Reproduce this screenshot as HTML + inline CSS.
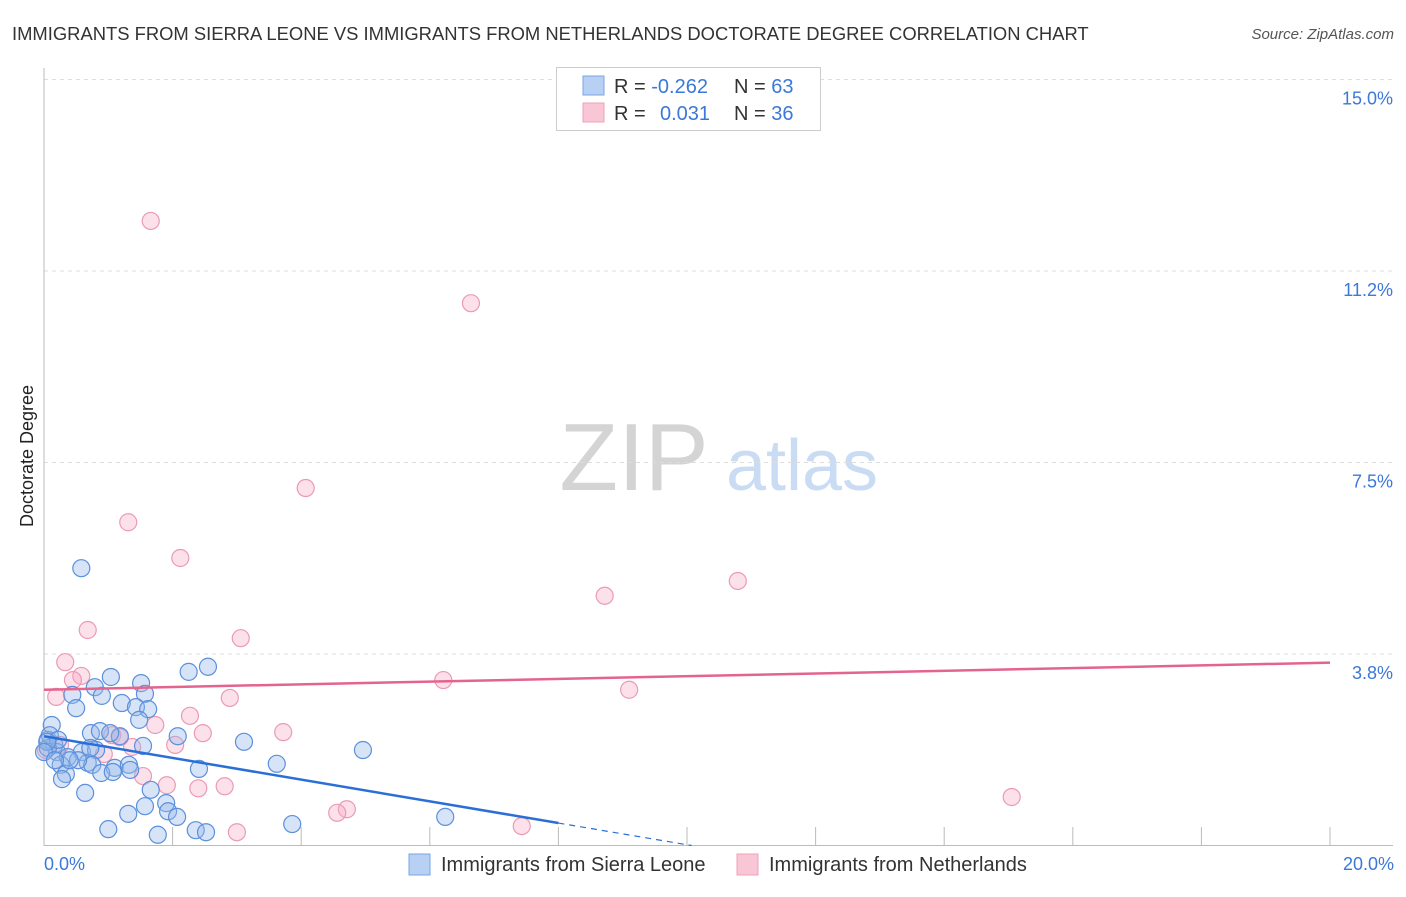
<!DOCTYPE html>
<html><head><meta charset="utf-8"><style>
body{margin:0;background:#fff;font-family:"Liberation Sans",sans-serif;}
svg text{font-family:"Liberation Sans",sans-serif;}
</style></head><body>
<svg id="chart" width="1406" height="892" xmlns="http://www.w3.org/2000/svg">
<text x="12" y="40" font-size="18.4" fill="#333">IMMIGRANTS FROM SIERRA LEONE VS IMMIGRANTS FROM NETHERLANDS DOCTORATE DEGREE CORRELATION CHART</text>
<text x="1394" y="39" font-size="15" fill="#555" font-style="italic" text-anchor="end">Source: ZipAtlas.com</text>
<g>
<text x="634" y="490" font-size="96" fill="#d4d4d4" font-family="Liberation Serif,serif" text-anchor="middle">ZIP</text>
<text x="802" y="490" font-size="72" fill="#c9dcf3" text-anchor="middle">atlas</text>
</g>
<g id="grid"></g>
<g id="axes"></g>
<g id="marks"></g>
<text x="33" y="456" font-size="18" fill="#222" text-anchor="middle" transform="rotate(-90 33 456)">Doctorate Degree</text>
<g>
<rect x="556.5" y="67.5" width="264" height="63" fill="#fff" stroke="#ccc"/>
<rect x="583" y="76" width="21" height="19" fill="#b7d0f3" stroke="#7aa6e6"/>
<rect x="583" y="103" width="21" height="19" fill="#f9c6d5" stroke="#eea0b8"/>
<text x="614" y="93" font-size="20" fill="#333">R = <tspan fill="#3b78d8">-0.262</tspan><tspan x="734">N = </tspan><tspan fill="#3b78d8">63</tspan></text>
<text x="614" y="120" font-size="20" fill="#333">R = <tspan x="660" fill="#3b78d8">0.031</tspan><tspan x="734">N = </tspan><tspan fill="#3b78d8">36</tspan></text>
</g>
<g>
<rect x="409" y="854" width="21" height="21" fill="#b7d0f3" stroke="#7aa6e6"/>
<text x="441" y="871" font-size="20" fill="#333">Immigrants from Sierra Leone</text>
<rect x="737" y="854" width="21" height="21" fill="#f9c6d5" stroke="#eea0b8"/>
<text x="769" y="871" font-size="20" fill="#333">Immigrants from Netherlands</text>
</g>
</svg>
<script>
const yTicks=[15.0,11.25,7.5,3.75];
const yTickLabels=["15.0%","11.2%","7.5%","3.8%"];
const xTicks=[0,2,4,6,8,10,12,14,16,18,20];
const blueX=[0.58,2.55,2.25,1.04,1.51,0.79,1.57,0.44,0.90,0.50,1.21,1.43,1.62,1.48,0.12,0.73,0.87,1.18,2.08,3.11,0.06,0.16,0.20,1.54,4.96,0.59,0.81,0.37,0.26,0.68,0.75,1.10,1.32,0.53,0.89,0.34,1.07,0.28,2.41,3.62,0.64,1.66,1.90,1.57,1.31,1.93,2.07,6.24,3.86,1.00,2.36,2.52,1.77,0.06,0.09,1.03,0.22,0.40,0.72,1.34,0.05,0.00,0.17];
const blueY=[5.43,3.50,3.40,3.30,3.18,3.10,2.97,2.95,2.93,2.69,2.79,2.71,2.67,2.46,2.36,2.20,2.24,2.14,2.14,2.03,2.07,1.97,1.83,1.95,1.87,1.83,1.87,1.73,1.58,1.62,1.58,1.52,1.58,1.67,1.42,1.40,1.44,1.30,1.50,1.60,1.03,1.09,0.83,0.77,0.62,0.67,0.56,0.56,0.42,0.32,0.30,0.26,0.21,1.91,2.16,2.20,2.07,1.67,1.91,1.48,2.03,1.83,1.67];
const pinkX=[1.66,6.64,4.07,1.31,2.12,8.72,10.79,0.68,3.06,0.33,0.58,0.45,0.19,6.21,9.10,2.89,2.27,3.72,2.47,1.06,1.18,0.03,0.25,2.04,1.73,1.37,0.93,1.54,1.91,2.40,2.81,4.71,4.56,7.43,3.00,15.05];
const pinkY=[12.23,10.62,7.00,6.33,5.63,4.89,5.18,4.22,4.06,3.59,3.32,3.24,2.91,3.24,3.05,2.89,2.54,2.22,2.20,2.16,2.12,1.87,1.97,1.97,2.36,1.93,1.79,1.36,1.18,1.12,1.16,0.71,0.64,0.38,0.26,0.95];
const blueTrend=[2.14,0.44];   // y at x=0 and x=8
const pinkTrend=[3.05,3.58];   // y at x=0 and x=20
const NS="http://www.w3.org/2000/svg";
const X=v=>44+v/20*1286;
const Y=v=>845.5-v/3.75*191.5;
function mk(tag,attrs,parent){const e=document.createElementNS(NS,tag);for(const k in attrs)e.setAttribute(k,attrs[k]);parent.appendChild(e);return e;}
const grid=document.getElementById('grid'),axes=document.getElementById('axes'),marks=document.getElementById('marks');
yTicks.forEach((t,i)=>{
  const l=mk('line',{x1:44,x2:1393,y1:Y(t),y2:Y(t),stroke:'#ddd','stroke-dasharray':'4,4'},grid);
  
  
  const tx=mk('text',{x:1393,y:Y(t)+25,'font-size':18,fill:'#3b78d8','text-anchor':'end'},axes);
  tx.textContent=yTickLabels[i];
  
  
});
const ya=mk('line',{x1:44,x2:44,y1:68,y2:846,stroke:'#bbb'},axes);


const xa=mk('line',{x1:44,x2:1393,y1:845.5,y2:845.5,stroke:'#bbb'},axes);


xTicks.forEach(t=>{
  const l=mk('line',{x1:X(t),x2:X(t),y1:827,y2:846,stroke:'#bbb'},axes);
  
  
});
[[0,'0.0%','start',44],[20,'20.0%','end',1394]].forEach(a=>{
  const tx=mk('text',{x:a[3],y:870,'font-size':18,fill:'#3b78d8','text-anchor':a[2]},axes);
  tx.textContent=a[1];
  
  
});
pinkX.forEach((v,i)=>{
  const c=mk('circle',{cx:X(v),cy:Y(pinkY[i]),r:8.5,fill:'rgba(245,170,195,0.35)',stroke:'#eb9ab5','stroke-width':1.2},marks);
  
  
});
blueX.forEach((v,i)=>{
  const c=mk('circle',{cx:X(v),cy:Y(blueY[i]),r:8.5,fill:'rgba(150,185,235,0.38)',stroke:'#5b90dc','stroke-width':1.2},marks);
  
  
});
const slope=(blueTrend[1]-blueTrend[0])/8;
const bt=mk('line',{x1:X(0),y1:Y(blueTrend[0]),x2:X(8),y2:Y(blueTrend[1]),stroke:'#2a6fd6','stroke-width':2.5},marks);


const xEnd=-blueTrend[0]/slope;
const bd=mk('line',{x1:X(8),y1:Y(blueTrend[1]),x2:X(xEnd),y2:Y(0),stroke:'#2a6fd6','stroke-width':1.2,'stroke-dasharray':'6,5'},marks);


const pt=mk('line',{x1:X(0),y1:Y(pinkTrend[0]),x2:X(20),y2:Y(pinkTrend[1]),stroke:'#e4648e','stroke-width':2.5},marks);


</script>
</body></html>
